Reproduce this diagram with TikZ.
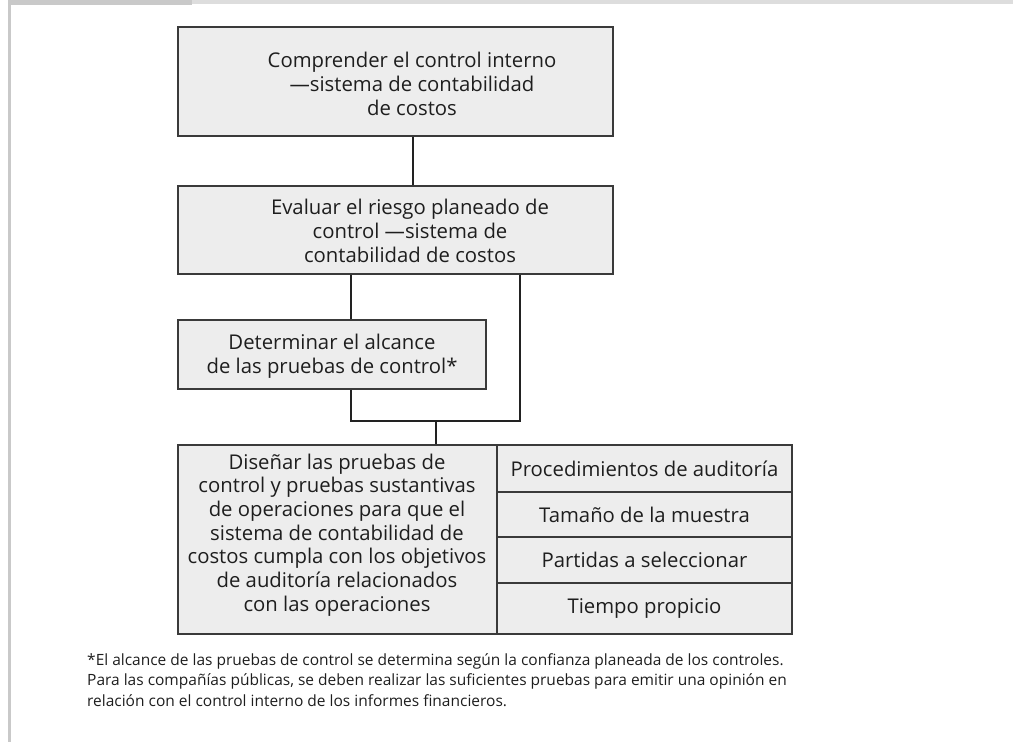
\documentclass[tikz,border=0pt]{standalone}
\usepackage{fontspec}
\setmainfont{Open Sans}
\definecolor{boxfill}{HTML}{EDEDED}
\definecolor{boxline}{HTML}{3A3A3A}
\definecolor{lncol}{HTML}{222222}
\definecolor{txtcol}{HTML}{1E1E1E}
\definecolor{framedark}{HTML}{C9C9C9}
\definecolor{framelight}{HTML}{DDDDDD}
\begin{document}
\begin{tikzpicture}[x=1pt,y=-1pt,
  box/.style={draw=boxline, fill=boxfill, line width=1.4pt, inner sep=0pt},
  txt/.style={align=center, text=txtcol, inner sep=0pt, font=\fontsize{20.3}{23.7}\selectfont},
  foot/.style={align=left, text=txtcol, inner sep=0pt, anchor=north west, font=\fontsize{15.5}{20.5}\selectfont},
  conn/.style={draw=lncol, line width=1.3pt}]
\useasboundingbox (0,0) rectangle (1013,742);
% frame
\fill[framelight] (8,0) rectangle (1013,4);
\fill[framedark] (8,0) rectangle (192,4.5);
\fill[framedark] (8,0) rectangle (11,742);
% boxes
\node[box, minimum width=435pt, minimum height=109pt] (b1) at (395.5,81.5) {};
\node[box, minimum width=435pt, minimum height=88pt] (b2) at (395.5,230) {};
\node[box, minimum width=308pt, minimum height=69pt] (b3) at (332,354.5) {};
\node[box, minimum width=319pt, minimum height=189pt] (b4) at (337.5,539.5) {};
\node[box, minimum width=295pt, minimum height=47pt] (r1) at (644.5,468.5) {};
\node[box, minimum width=295pt, minimum height=45pt] (r2) at (644.5,514.5) {};
\node[box, minimum width=295pt, minimum height=46pt] (r3) at (644.5,560) {};
\node[box, minimum width=295pt, minimum height=51pt] (r4) at (644.5,608.5) {};
% texts
\node[txt] (t1) at (412,84) {Comprender el control interno\\—sistema de contabilidad\\de costos};
\node[txt] (t2) at (410,231) {Evaluar el riesgo planeado de\\control —sistema de\\contabilidad de costos};
\node[txt] (t3) at (332,356) {Determinar el alcance\\de las pruebas de control*};
\node[txt] (t4) at (337,535) {Diseñar las pruebas de\\control y pruebas sustantivas\\de operaciones para que el\\sistema de contabilidad de\\costos cumpla con los objetivos\\de auditoría relacionados\\con las operaciones};
\node[txt] (s1) at (r1) {Procedimientos de auditoría};
\node[txt] (s2) at (r2) {Tamaño de la muestra};
\node[txt] (s3) at (r3) {Partidas a seleccionar};
\node[txt] (s4) at (r4) {Tiempo propicio};
% connectors
\coordinate (j1) at (351,421);
\coordinate (j2) at (520,421);
\coordinate (j3) at (436,421);
\draw[conn] ([xshift=17.5pt]b1.south) -- ([xshift=17.5pt]b2.north);
\draw[conn] (b2.south -| j1) -- (b3.north -| j1);
\draw[conn] (b3.south -| j1) -- (j1) -- (j2) -- (b2.south -| j2);
\draw[conn] (j3) -- (b4.north -| j3);
% footnote
\node[foot] (fn) at (87,653) {*El alcance de las pruebas de control se determina según la confianza planeada de los controles.\\Para las compañías públicas, se deben realizar las suficientes pruebas para emitir una opinión en\\relación con el control interno de los informes financieros.};
\end{tikzpicture}
\end{document}
